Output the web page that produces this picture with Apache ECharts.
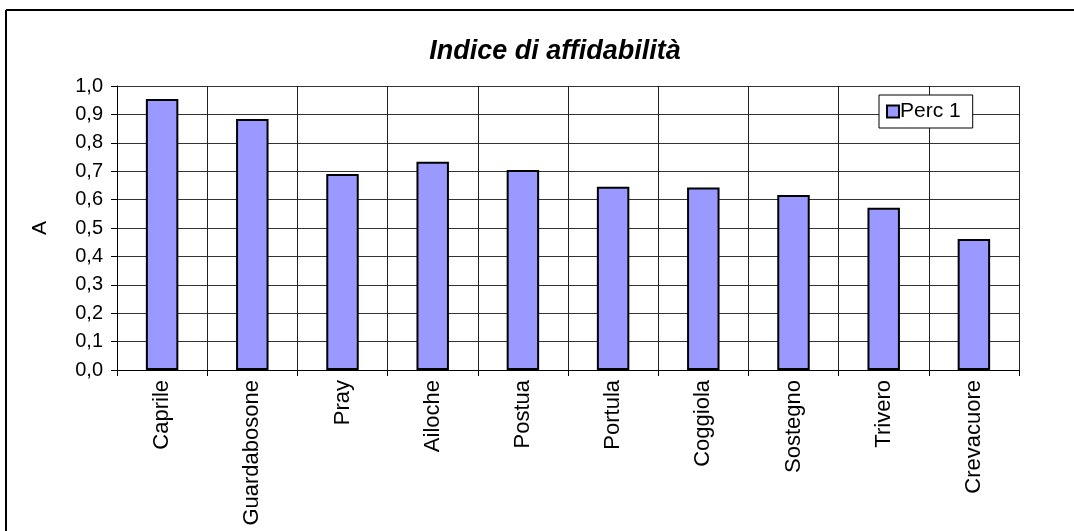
<!DOCTYPE html>
<html>
<head>
<meta charset="utf-8">
<script src="https://cdn.jsdelivr.net/npm/echarts@6/dist/echarts.min.js"></script>
<style>
html,body{margin:0;padding:0;background:#fff;}
#c{width:1074px;height:531px;}
</style>
</head>
<body>
<div id="c"></div>
<script>
const titleText = 'Indice di affidabilità';
const categories = ['Caprile','Guardabosone','Pray','Ailoche','Postua','Portula','Coggiola','Sostegno','Trivero','Crevacuore'];
const seriesName = 'Perc 1';
const values = [0.954, 0.884, 0.690, 0.733, 0.704, 0.645, 0.643, 0.616, 0.571, 0.461];
const yAxisName = 'A';

const font = '"Liberation Sans", Arial, sans-serif';
const chart = echarts.init(document.getElementById('c'), null, {renderer:'canvas'});
chart.setOption({
  animation:false,
  backgroundColor:'#fff',
  graphic:[
    {type:'line', shape:{x1:6,y1:10,x2:1080,y2:10}, style:{stroke:'#000', lineWidth:2}},
    {type:'line', shape:{x1:6,y1:10,x2:6,y2:540}, style:{stroke:'#000', lineWidth:2}}
  ],
  title:{
    text:titleText, left:550, top:33, textAlign:'center',
    textStyle:{fontFamily:font, fontSize:27, fontWeight:'bold', fontStyle:'italic', color:'#000'}
  },
  legend:{
    left:879, top:95, orient:'vertical',
    backgroundColor:'#fff', borderColor:'#000', borderWidth:1,
    padding:[6,12,6,7],
    icon:'rect', itemWidth:12, itemHeight:12,
    textStyle:{fontFamily:font, fontSize:21, color:'#000', padding:[0,0,0,-4]},
    itemStyle:{borderColor:'#000', borderWidth:2}
  },
  grid:{left:117, top:86, right:55, bottom:161},
  xAxis:{
    type:'category', data:categories,
    axisLine:{lineStyle:{color:'#000', width:1}},
    axisTick:{show:true, length:6, lineStyle:{color:'#000'}},
    splitLine:{show:true, lineStyle:{color:'#222', width:1}},
    axisLabel:{rotate:90, margin:10, fontFamily:font, fontSize:22, color:'#000'}
  },
  yAxis:{
    type:'value', min:0, max:1, interval:0.1,
    name:yAxisName, nameLocation:'middle', nameGap:66, nameRotate:90,
    nameTextStyle:{fontFamily:font, fontSize:21, color:'#000'},
    axisLine:{show:true, lineStyle:{color:'#000'}},
    axisTick:{show:true, length:6, lineStyle:{color:'#000'}},
    splitLine:{show:true, lineStyle:{color:'#333', width:1}},
    axisLabel:{margin:14, fontFamily:font, fontSize:20, color:'#000',
      formatter:v=>v.toFixed(1).replace('.',',')}
  },
  series:[{
    name:seriesName, type:'bar', data:values, barWidth:'36%',
    itemStyle:{color:'#9999FF', borderColor:'#000', borderWidth:2}
  }]
});
</script>
</body>
</html>
